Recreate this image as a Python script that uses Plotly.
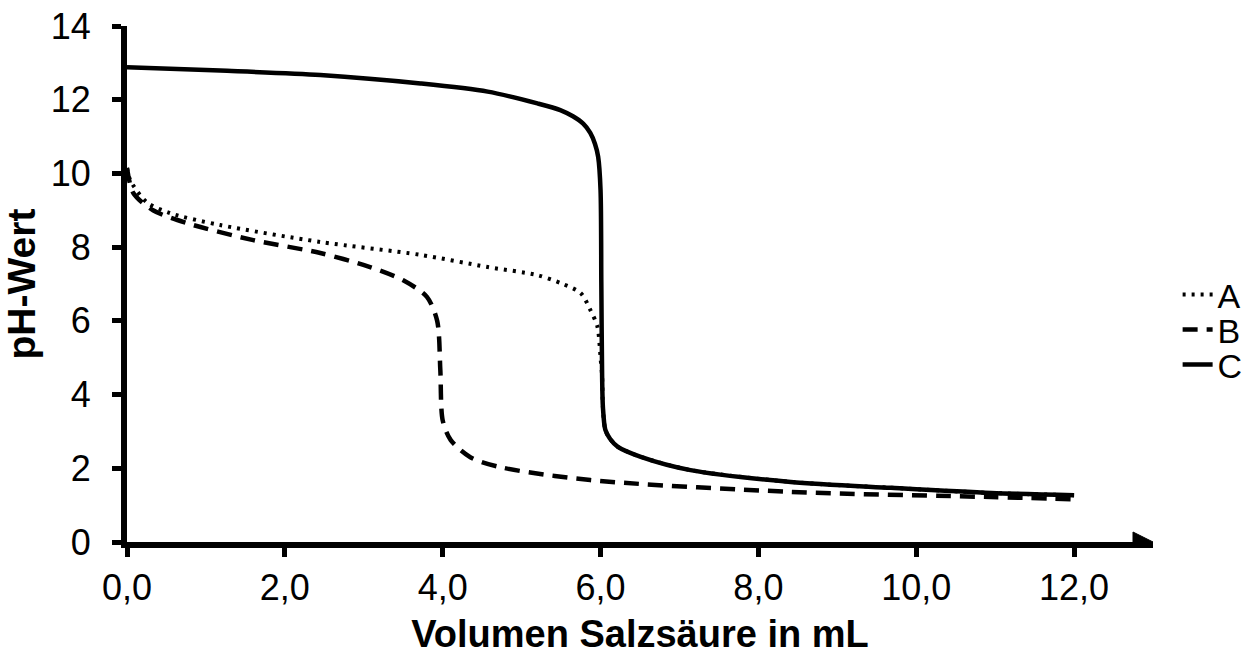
import plotly.graph_objects as go

# Titration curves: volume of hydrochloric acid (mL) vs. pH
vol_a = [0.0, 0.04, 0.25, 0.55, 1.18, 2.45, 3.72, 4.57, 5.2, 5.5, 5.75, 5.87, 5.96, 5.99, 6.0,
         6.02, 6.03, 6.06, 6.12, 6.22, 6.51, 7.14, 8.41, 9.68, 10.95, 12.0]
ph_a = [10.15, 9.82, 9.22, 8.92, 8.6, 8.14, 7.79, 7.46, 7.24, 7.02, 6.75, 6.3, 5.85, 5.3, 5.0,
        4.5, 3.66, 3.05, 2.8, 2.58, 2.31, 1.95, 1.63, 1.47, 1.33, 1.27]

vol_b = [0.0, 0.08, 0.33, 0.76, 1.6, 2.45, 3.08, 3.5, 3.8, 3.93, 3.97, 4.0, 4.1, 4.35,
         4.73, 5.87, 8.41, 10.95, 12.0]
ph_b = [10.15, 9.47, 9.0, 8.65, 8.19, 7.84, 7.46, 7.1, 6.65, 6.0, 4.67, 3.3, 2.77, 2.3,
        2.03, 1.68, 1.36, 1.22, 1.16]

vol_c = [0.0, 1.18, 2.45, 3.72, 4.57, 5.2, 5.49, 5.65, 5.78, 5.87, 5.93, 5.97, 6.0,
         6.01, 6.02, 6.03, 6.06, 6.12, 6.22, 6.51, 7.14, 8.41, 9.68, 10.95, 12.0]
ph_c = [12.88, 12.79, 12.67, 12.44, 12.22, 11.9, 11.72, 11.55, 11.35, 11.1, 10.8, 10.45, 9.55,
        7.0, 4.5, 3.66, 3.05, 2.8, 2.58, 2.31, 1.95, 1.63, 1.47, 1.33, 1.27]

x_ticks = [0, 2, 4, 6, 8, 10, 12]
x_tick_labels = ["0,0", "2,0", "4,0", "6,0", "8,0", "10,0", "12,0"]
y_ticks = [0, 2, 4, 6, 8, 10, 12, 14]

FONT = "Liberation Sans, Arial, sans-serif"

fig = go.Figure()
fig.add_trace(go.Scatter(x=vol_a, y=ph_a, mode="lines", name="A", legend="legend",
                         line=dict(color="black", width=4, dash="3px,6px",
                                   shape="spline", smoothing=0.8)))
fig.add_trace(go.Scatter(x=vol_b, y=ph_b, mode="lines", name="B", legend="legend2",
                         line=dict(color="black", width=4.5, dash="15px,9px",
                                   shape="spline", smoothing=0.8)))
fig.add_trace(go.Scatter(x=vol_c, y=ph_c, mode="lines", name="C", legend="legend3",
                         line=dict(color="black", width=4.5, shape="spline", smoothing=0.8)))

# Arrow head at the end of the x axis
fig.add_shape(type="path", xref="x", yref="y", xsizemode="pixel", ysizemode="pixel",
              xanchor=13, yanchor=0, path="M -20,-10 L 0,0 L -20,10 Z",
              fillcolor="black", line=dict(color="black", width=1))

legend_common = dict(x=1.024, xanchor="left", yanchor="middle",
                     font=dict(size=34, family=FONT), bgcolor="rgba(0,0,0,0)")

fig.update_layout(
    width=1254, height=655,
    margin=dict(l=127, r=101, t=26, b=113, autoexpand=False),
    paper_bgcolor="white", plot_bgcolor="white",
    font=dict(family=FONT, color="black", size=36),
    showlegend=True,
    legend=dict(y=0.479, **legend_common),
    legend2=dict(y=0.411, **legend_common),
    legend3=dict(y=0.343, **legend_common),
    xaxis=dict(range=[0, 13], tickvals=x_ticks, ticktext=x_tick_labels,
               showgrid=False, zeroline=False, showline=True, linewidth=6, linecolor="black",
               ticks="outside", ticklen=9, tickwidth=5, tickcolor="black",
               tickfont=dict(size=36, family=FONT),
               title=dict(text="<b>Volumen Salzsäure in mL</b>", font=dict(size=38, family=FONT),
                          standoff=18)),
    yaxis=dict(range=[0, 14], tickvals=y_ticks,
               showgrid=False, zeroline=False, showline=True, linewidth=6, linecolor="black",
               ticks="outside", ticklen=9, tickwidth=5, tickcolor="black",
               ticklabelstandoff=14,
               tickfont=dict(size=36, family=FONT),
               title=dict(text="<b>pH-Wert</b>", font=dict(size=39, family=FONT), standoff=12)),
)

fig.write_html("out.html")
